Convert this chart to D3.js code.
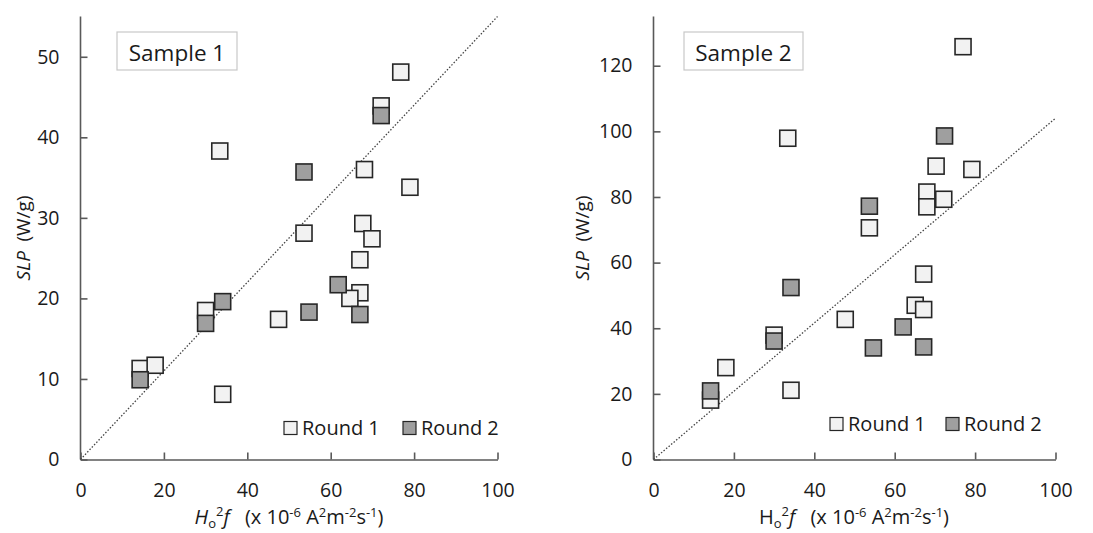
<!DOCTYPE html>
<meta charset="utf-8">
<style>
  body { margin: 0; background: #fff; }
  text { font-family: "Open Sans", Lato, sans-serif; fill: #1a1a1a; }
</style>
<script src="https://d3js.org/d3.v7.min.js"></script>
<svg width="1093" height="533"></svg>
<script>
// Sample 1 : H0^2 f  vs SLP
const s1Round1X = [76.8, 72.1, 33.4, 68.1, 79.0, 53.6, 67.7, 69.9, 67.0, 67.0, 64.6, 47.5, 30.0, 14.3, 17.9, 34.1];
const s1Round1Y = [48.1, 43.9, 38.3, 36.0, 33.8, 28.1, 29.3, 27.4, 24.8, 20.7, 20.0, 17.4, 18.5, 11.3, 11.7, 8.1];
const s1Round2X = [72.1, 53.6, 61.8, 67.0, 54.8, 34.1, 30.0, 14.3];
const s1Round2Y = [42.7, 35.7, 21.7, 18.0, 18.3, 19.6, 16.9, 9.9];

// Sample 2
const s2Round1X = [77.0, 33.4, 70.3, 79.2, 68.0, 72.2, 68.0, 53.7, 67.2, 65.1, 67.2, 47.7, 30.0, 18.0, 34.2, 14.2];
const s2Round1Y = [125.8, 97.9, 89.4, 88.4, 81.5, 79.3, 77.0, 70.6, 56.5, 47.0, 45.7, 42.7, 37.9, 28.0, 21.1, 18.1];
const s2Round2X = [72.4, 53.7, 62.1, 54.7, 67.2, 34.2, 30.0, 14.2];
const s2Round2Y = [98.6, 77.2, 40.4, 34.0, 34.3, 52.4, 36.1, 20.9];

const xTicks = [0, 20, 40, 60, 80, 100];
const s1YTicks = [0, 10, 20, 30, 40, 50];
const s2YTicks = [0, 20, 40, 60, 80, 100, 120];

// reference line slopes (SLP per unit of H0^2 f)
const s1Slope = 0.55;
const s2Slope = 1.04;

const seriesNames = ['Round 1', 'Round 2'];
const seriesFill = ['#f2f2f2', '#9f9f9f'];

const svg = d3.select('svg');
const axisColor = '#595959';

function panel(opt) {
  const x = d3.scaleLinear().domain([0, 100]).range([opt.left, opt.right]);
  const y = d3.scaleLinear().domain([0, opt.yMax]).range([459.5, 16.5]);
  const g = svg.append('g');

  // x axis
  const xa = g.append('g').attr('transform', 'translate(0,459.5)')
    .call(d3.axisBottom(x).tickValues(xTicks).tickSizeInner(-7).tickSizeOuter(0).tickPadding(20));
  // y axis
  const ya = g.append('g').attr('transform', `translate(${opt.left},0)`)
    .call(d3.axisLeft(y).tickValues(opt.yTicks).tickSizeInner(-7).tickSizeOuter(0).tickPadding(21));
  [xa, ya].forEach(a => {
    a.attr('font-size', null).attr('font-family', null);
    a.select('.domain').attr('stroke', axisColor).attr('stroke-width', 1.6);
    a.selectAll('.tick line').attr('stroke', axisColor).attr('stroke-width', 1.6);
    a.selectAll('.tick text').attr('fill', '#1a1a1a').style('font-size', '19.5px');
  });
  ya.select('.domain').attr('d', `M0,${y(0)}V${y.range()[1]}`);
  xa.selectAll('.tick text').attr('dy', '0.9em');

  // dotted reference line
  g.append('line')
    .attr('x1', x(0)).attr('y1', y(0))
    .attr('x2', x(100)).attr('y2', y(100 * opt.slope))
    .attr('stroke', '#444').attr('stroke-width', 1.3)
    .attr('stroke-dasharray', '1.5,1.8');

  // points, round 1 under round 2
  const sz = 16;
  [[opt.r1x, opt.r1y], [opt.r2x, opt.r2y]].forEach((s, k) => {
    g.append('g').selectAll('rect')
      .data(s[0].map((v, i) => [v, s[1][i]]))
      .join('rect')
      .attr('x', d => x(d[0]) - sz / 2)
      .attr('y', d => y(d[1]) - sz / 2)
      .attr('width', sz).attr('height', sz)
      .attr('fill', seriesFill[k])
      .attr('stroke', '#262626').attr('stroke-width', 1.6);
  });

  // sample label box
  const lb = g.append('g').attr('transform', `translate(${opt.boxX},32)`);
  lb.append('rect').attr('width', opt.boxW).attr('height', 38)
    .attr('fill', '#fff').attr('stroke', '#c8c8c8').attr('stroke-width', 1.2);
  lb.append('text').attr('x', opt.boxW / 2).attr('y', 29).attr('text-anchor', 'middle')
    .style('font-size', '22.5px').text(opt.title);

  // legend
  const lg = g.append('g').attr('transform', `translate(${opt.legX},${opt.legY})`);
  seriesNames.forEach((n, k) => {
    const off = k * opt.legGap;
    lg.append('rect').attr('x', off).attr('y', -6.5).attr('width', 13).attr('height', 13)
      .attr('fill', seriesFill[k]).attr('stroke', '#262626').attr('stroke-width', 1.2);
    lg.append('text').attr('x', off + 18).attr('y', 7).style('font-size', '20px').text(n);
  });

  // y title
  const yt = g.append('text')
    .attr('transform', `translate(${opt.yTitleX},238) rotate(-90)`)
    .attr('text-anchor', 'middle').style('font-size', '19px');
  yt.append('tspan').attr('font-style', 'italic').text('SLP');
  yt.append('tspan').text('\u2002(W/g)');

  // x title
  const sub = '13px';
  const xt = g.append('text')
    .attr('x', opt.xTitleX).attr('y', 524)
    .attr('text-anchor', 'middle').style('font-size', '20px');
  xt.append('tspan').attr('font-style', opt.italicH ? 'italic' : 'normal').text('H');
  xt.append('tspan').style('font-size', sub).attr('dy', 4).text('o');
  xt.append('tspan').style('font-size', sub).attr('dy', -12).text('2');
  xt.append('tspan').attr('dy', 8).attr('font-style', 'italic').text('f');
  xt.append('tspan').text('\u2002 (x 10');
  xt.append('tspan').style('font-size', sub).attr('dy', -7).text('-6');
  xt.append('tspan').attr('dy', 7).text(' A');
  xt.append('tspan').style('font-size', sub).attr('dy', -7).text('2');
  xt.append('tspan').attr('dy', 7).text('m');
  xt.append('tspan').style('font-size', sub).attr('dy', -7).text('-2');
  xt.append('tspan').attr('dy', 7).text('s');
  xt.append('tspan').style('font-size', sub).attr('dy', -7).text('-1');
  xt.append('tspan').attr('dy', 7).text(')');
}

panel({
  left: 80.5, right: 497.5, yMax: 55, yTicks: s1YTicks, slope: s1Slope,
  r1x: s1Round1X, r1y: s1Round1Y, r2x: s1Round2X, r2y: s1Round2Y,
  title: 'Sample 1', boxX: 117, boxW: 120,
  legX: 284, legY: 428, legGap: 119,
  yTitleX: 30, xTitleX: 289, italicH: true
});

panel({
  left: 653.5, right: 1055.5, yMax: 135, yTicks: s2YTicks, slope: s2Slope,
  r1x: s2Round1X, r1y: s2Round1Y, r2x: s2Round2X, r2y: s2Round2Y,
  title: 'Sample 2', boxX: 684, boxW: 119,
  legX: 830, legY: 424, legGap: 116,
  yTitleX: 589, xTitleX: 854, italicH: false
});
</script>
